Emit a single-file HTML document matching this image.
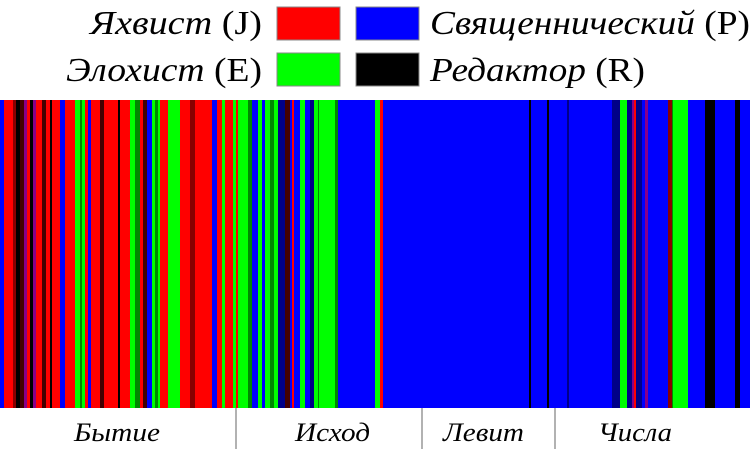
<!DOCTYPE html>
<html><head><meta charset="utf-8"><style>
html,body{margin:0;padding:0;background:#fff;}
svg{display:block;}
text{font-family:"Liberation Serif","DejaVu Serif",serif;}
</style></head><body>
<svg width="750" height="449" xmlns="http://www.w3.org/2000/svg">
<g id="bars"></g>
<g font-size="34">
<text x="90" y="34" textLength="172" lengthAdjust="spacingAndGlyphs"><tspan font-style="italic">Яхвист</tspan> (J)</text>
<text x="66" y="81" textLength="196" lengthAdjust="spacingAndGlyphs"><tspan font-style="italic">Элохист</tspan> (E)</text>
<text x="430" y="34" textLength="320" lengthAdjust="spacingAndGlyphs"><tspan font-style="italic">Священнический</tspan> (P)</text>
<text x="430" y="81" textLength="215" lengthAdjust="spacingAndGlyphs"><tspan font-style="italic">Редактор</tspan> (R)</text>
</g>
<rect x="277" y="7" width="63" height="33" fill="#f00" stroke="#888" stroke-width="1"/>
<rect x="356" y="7" width="63" height="33" fill="#00f" stroke="#888" stroke-width="1"/>
<rect x="277" y="53" width="63" height="33" fill="#0f0" stroke="#888" stroke-width="1"/>
<rect x="356" y="53" width="63" height="33" fill="#000" stroke="#888" stroke-width="1"/>
<g stroke="#999" stroke-width="1.5">
<line x1="236" y1="408" x2="236" y2="449"/>
<line x1="422" y1="408" x2="422" y2="449"/>
<line x1="555" y1="408" x2="555" y2="449"/>
</g>
<g font-size="26" font-style="italic">
<text x="74" y="441" textLength="86" lengthAdjust="spacingAndGlyphs">Бытие</text>
<text x="295" y="441" textLength="75" lengthAdjust="spacingAndGlyphs">Исход</text>
<text x="443" y="441" textLength="81" lengthAdjust="spacingAndGlyphs">Левит</text>
<text x="598" y="441" textLength="74" lengthAdjust="spacingAndGlyphs">Числа</text>
</g>
</svg>
<script>
var R='#f00',G='#0f0',B='#00f',K='#000',DR='#800',DG='#080',P='#808',DB='#008',DX='#400';
var s=[
[0,4,B],[4,13,R],[13,16,DR],[16,20,K],[20,24,DX],[24,27,P],[27,30,R],[30,33,K],[33,36,P],[36,42,R],[42,46,DX],[46,50,R],[50,52,K],[52,60,R],[60,65,B],[65,75,R],[75,80,G],[80,82,DG],[82,85,G],[85,88,R],[88,91,B],[91,100,R],[100,104,DX],[104,118,R],[118,120,K],[120,130,R],[130,135,G],[135,140,DG],[140,143,R],[143,147,DX],[147,152,B],[152,155,G],[155,158,DG],[158,160,G],[160,168,R],[168,180,G],[180,190,R],[190,195,DR],[195,212,R],[212,217,B],[217,222,R],[222,225,G],[225,233,R],[233,236,G],[236,238,R],[238,248,G],[248,252,DG],[252,258,B],[258,262,G],[262,265,B],[265,270,G],[270,274,DG],[274,278,G],[278,285,DB],[285,290,DX],[290,292,B],[292,294,R],[294,300,B],[300,305,G],[305,310,B],[310,314,DB],[314,318,G],[318,319,DG],[319,335,G],[335,338,DG],[338,375,B],[375,380,G],[380,383,R],[383,529,B],[529,531,K],[531,547,B],[547,549,K],[549,567,B],[567,569,DB],[569,612,B],[612,620,DB],[620,627,G],[627,632,DB],[632,634,P],[634,636,R],[636,642,DB],[642,645,B],[645,648,P],[648,668,B],[668,672,DR],[672,673,DG],[673,688,G],[688,705,B],[705,715,K],[715,735,B],[735,740,K],[740,750,B]];
var g=document.getElementById('bars'),h='';
s.forEach(function(a){h+='<rect x="'+a[0]+'" y="100" width="'+(a[1]-a[0]+0.3)+'" height="308" fill="'+a[2]+'"/>';});
g.innerHTML=h;
</script>
</body></html>
